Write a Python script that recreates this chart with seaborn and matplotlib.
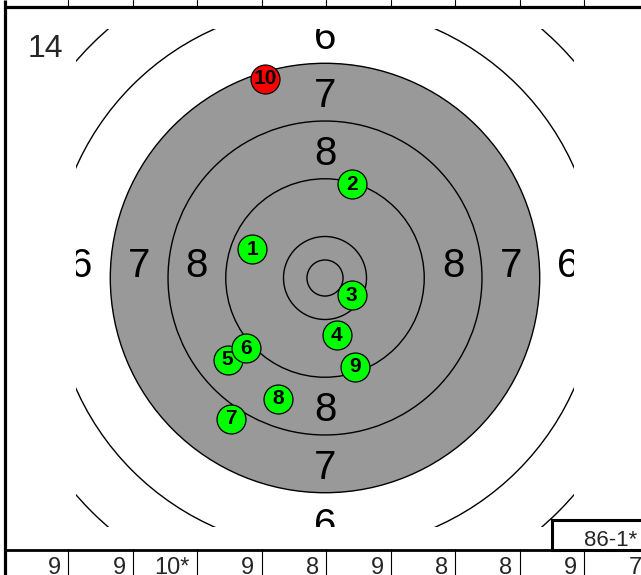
import numpy as np
import pandas as pd
import seaborn as sns
import matplotlib.pyplot as plt
from matplotlib.patches import Circle, Rectangle

# shots (mm from centre), in firing order
shot_no = [1, 2, 3, 4, 5, 6, 7, 8, 9, 10]
shot_x = [-10.1, 3.7, 3.7, 1.6, -13.5, -10.9, -13.0, -6.5, 4.2, -8.3]
shot_y = [4.0, 13.0, -2.4, -7.9, -11.3, -9.75, -19.5, -16.7, -12.3, 27.6]
shot_kind = ["old", "old", "old", "old", "old", "old", "old", "old", "old", "last"]

# 10m air pistol target rings (radius, mm): inner ten, 10, 9, 8, 7, 6, 5
ring_radii = [2.5, 5.75, 13.75, 21.75, 29.75, 37.75, 45.75]
black_radius = 29.75
ring_labels = ["8", "7", "6"]
ring_label_r = [17.75, 25.75, 33.75]

series_no = "14"
series_scores = ["9", "9", "10*", "9", "8", "9", "8", "8", "9", "7"]
series_total = "86-1*"

sns.set_style("white")
plt.rcParams["font.family"] = ["Liberation Sans", "DejaVu Sans"]

W, H = 641, 575
fig = plt.figure(figsize=(W / 100, H / 100), dpi=100)

# target axes (square, clipped view)
lim = 34.5
ax = fig.add_axes([76 / W, (H - 527) / H, 498 / W, 498 / H])
ax.set_xlim(-lim, lim)
ax.set_ylim(-lim, lim)
ax.set_axis_off()
px_per_mm = 498 / (2 * lim)

ax.add_patch(Circle((0, 0), black_radius, facecolor="#999999", edgecolor="none", zorder=1))
for r in ring_radii:
    ax.add_patch(Circle((0, 0), r, facecolor="none", edgecolor="black", lw=1.0, zorder=2))

# label offsets (px) to sit like the original layout
for lab, r in zip(ring_labels, ring_label_r):
    for dx, dy, off in [(0, 1, -4), (0, -1, -4), (-1, 0, 12), (1, 0, 12)]:
        ax.text(dx * r, dy * r + off / px_per_mm, lab, ha="center", va="center",
                fontsize=29, color="black", zorder=3, clip_on=True)

shot_r = 2.1
diam_pt = 2 * shot_r * px_per_mm * 72 / 100
palette = {"old": "#00ff00", "last": "#ff0000"}

shots = pd.DataFrame({"no": shot_no, "x": shot_x, "y": shot_y, "kind": shot_kind})
for i, row in shots.iterrows():
    sns.scatterplot(x=[row.x], y=[row.y], color=palette[row.kind], s=(diam_pt - 1) ** 2,
                    edgecolor="black", linewidth=0.9, legend=False, ax=ax, zorder=10 + 2 * i)
    ax.text(row.x, row.y, str(row.no), ha="center", va="center", fontsize=15,
            fontweight="bold", color="black", zorder=11 + 2 * i)
ax.set_xlim(-lim, lim)
ax.set_ylim(-lim, lim)

# frame / score table in pixel coordinates
ov = fig.add_axes([0, 0, 1, 1], zorder=20)
ov.set_xlim(0, W)
ov.set_ylim(H, 0)
ov.set_axis_off()
ov.patch.set_alpha(0)

ov.plot([4.5, 4.5], [0, H], color="black", lw=2.3, solid_capstyle="butt")
ov.plot([4.5, W], [6.5, 6.5], color="black", lw=2.3)
ov.plot([4.5, W], [549.5, 549.5], color="black", lw=2.0)
cell_w = 64.5
for k in range(len(series_scores)):
    xr = 68 + cell_w * k
    ov.plot([xr, xr], [0, 6], color="black", lw=0.8)
    ov.plot([xr, xr], [549, H], color="black", lw=0.8)
    ov.text(xr - 7, 574, series_scores[k], ha="right", va="baseline", fontsize=17)

ov.add_patch(Rectangle((552, 520), 100, 29.5, facecolor="white", edgecolor="black", lw=2.2))
ov.text(637, 546, series_total, ha="right", va="baseline", fontsize=16)
ov.text(28, 57, series_no, ha="left", va="baseline", fontsize=23)

fig.savefig("out.png", dpi=100)
